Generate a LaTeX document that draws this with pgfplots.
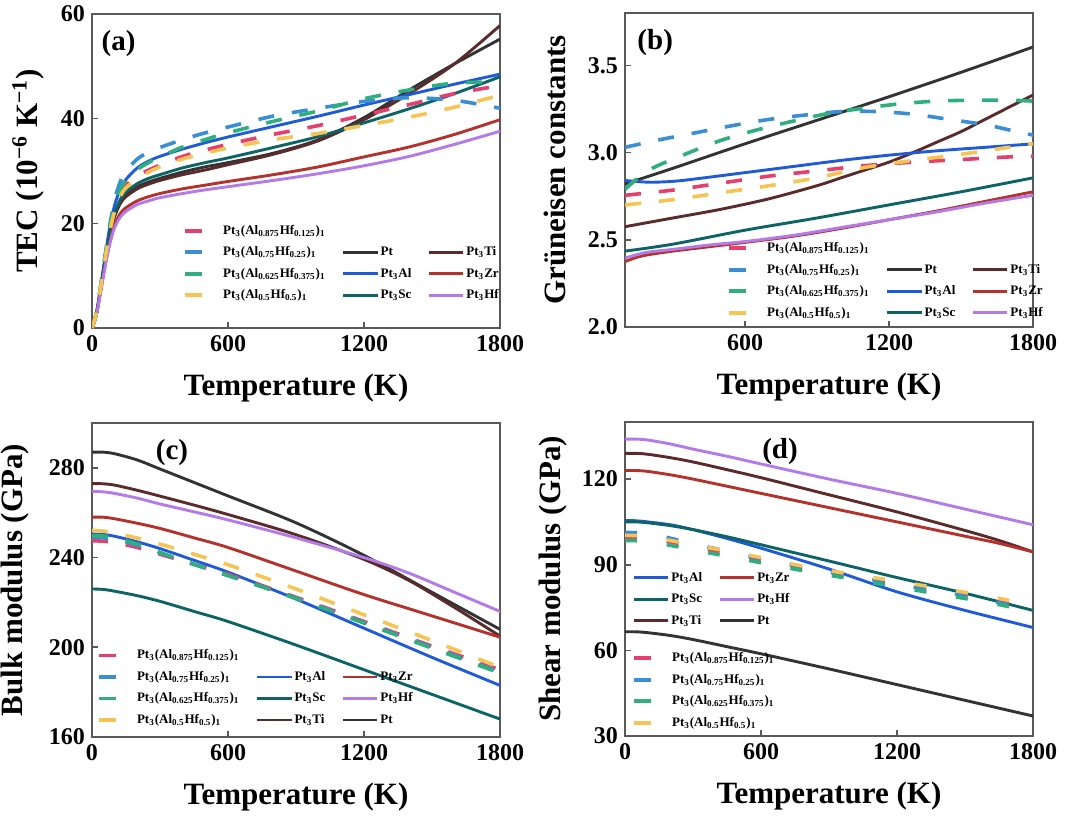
\documentclass[border=0pt]{standalone}
\usepackage{fontspec}
\setmainfont{Liberation Serif}
\usepackage{pgfplots}
\pgfplotsset{compat=1.18}

\definecolor{cPink}{HTML}{E63E6D}
\definecolor{cBlueD}{HTML}{3A8ED3}
\definecolor{cGreen}{HTML}{2EAF7D}
\definecolor{cYellow}{HTML}{F6C453}
\definecolor{cPt}{HTML}{333333}
\definecolor{cTi}{HTML}{5B2A2A}
\definecolor{cAl}{HTML}{1F5BD8}
\definecolor{cZr}{HTML}{B5312B}
\definecolor{cSc}{HTML}{0C6467}
\definecolor{cHf}{HTML}{B47AE8}

\newcommand{\sA}{Pt\textsubscript{3}(Al\textsubscript{0.875}Hf\textsubscript{0.125})\textsubscript{1}}
\newcommand{\sB}{Pt\textsubscript{3}(Al\textsubscript{0.75}Hf\textsubscript{0.25})\textsubscript{1}}
\newcommand{\sC}{Pt\textsubscript{3}(Al\textsubscript{0.625}Hf\textsubscript{0.375})\textsubscript{1}}
\newcommand{\sD}{Pt\textsubscript{3}(Al\textsubscript{0.5}Hf\textsubscript{0.5})\textsubscript{1}}
\newcommand{\tn}[1]{Pt\textsubscript{3}#1}

\tikzset{
  sol/.style={line width=1.45pt},
  dsh/.style={line width=1.8pt, dash pattern=on 8pt off 9pt},
  dshL/.style={line width=1.8pt, dash pattern=on 8.5pt off 9pt},
}

\pgfplotsset{
  panel/.style={
    scale only axis, width=204pt, height=157pt,
    xmin=0, xmax=1800, xtick={0,600,1200,1800},
    tick align=inside, xtick pos=bottom, ytick pos=left,
    axis line style={black!65, line width=0.8pt},
    major tick style={black!65, line width=0.8pt}, major tick length=3pt,
    tick label style={font=\fontsize{12}{12}\selectfont\bfseries},
    /pgf/number format/assume math mode=true,
    /pgf/number format/1000 sep={},
    label style={font=\fontsize{15.5}{16}\selectfont\bfseries},
    xlabel={Temperature (K)},
    xlabel style={at={(axis description cs:0.5,-0.19)}, anchor=center},
    legend cell align=left,
    legend style={draw=none, fill=none, anchor=north west, inner sep=0pt,
      font=\fontsize{6.5}{7}\selectfont\bfseries, row sep=2.25pt,
      nodes={inner sep=1pt, text height=5pt, text depth=1.5pt},
      /tikz/every even column/.append style={column sep=7pt}},
  },
  every axis plot/.append style={smooth, tension=0.5, forget plot},
}

\begin{document}
\begin{tikzpicture}
\useasboundingbox (0,0) rectangle (540pt,410pt);

% ---------------- (a) ----------------
\begin{axis}[panel, at={(46pt,246pt)}, anchor=south west,
  ymin=0, ymax=60, ytick={0,20,40,60},
  ylabel={TEC (10\textsuperscript{−6} K\textsuperscript{−1})},
  ylabel style={at={(axis description cs:-0.157,0.5)}, anchor=center},
  legend columns=3,
  legend style={at={(rel axis cs:0.223,0.338)}}]
\addplot[sol, cPt] coordinates {(0,0)(20,2.8)(40,8)(60,13.5)(80,18.3)(100,21.6)(125,24.2)(150,25.5)(200,27)(250,27.9)(300,28.6)(400,29.8)(500,30.8)(600,31.6)(800,33.4)(1000,36)(1200,40.2)(1400,45.5)(1600,50.5)(1800,55.2)};
\addplot[sol, cTi] coordinates {(0,0)(20,2.8)(40,8)(60,13.4)(80,18.1)(100,21.3)(125,23.8)(150,25.1)(200,26.6)(250,27.5)(300,28.2)(400,29.3)(500,30.2)(600,31.2)(800,33.2)(1000,35.8)(1200,39.8)(1400,44.8)(1600,50.5)(1800,57.8)};
\addplot[sol, cAl] coordinates {(0,0)(20,3)(40,8.4)(60,14.3)(80,19.7)(100,23.5)(125,26.6)(150,28.4)(200,30.6)(250,31.9)(300,32.8)(400,34.2)(500,35.4)(600,36.5)(800,38.5)(1000,40.5)(1200,42.6)(1400,44.6)(1600,46.6)(1800,48.5)};
\addplot[sol, cSc] coordinates {(0,0)(20,2.8)(40,8.1)(60,13.6)(80,18.5)(100,21.9)(125,24.6)(150,26)(200,27.6)(250,28.6)(300,29.3)(400,30.6)(500,31.6)(600,32.5)(800,34.5)(1000,36.6)(1200,39.2)(1400,41.9)(1600,44.8)(1800,48)};
\addplot[sol, cZr] coordinates {(0,0)(20,2.7)(40,7.5)(60,12.5)(80,16.8)(100,19.8)(125,21.9)(150,23)(200,24.3)(250,25.1)(300,25.7)(400,26.6)(500,27.3)(600,28)(800,29.3)(1000,30.8)(1200,32.7)(1400,34.6)(1600,37)(1800,39.8)};
\addplot[sol, cHf] coordinates {(0,0)(20,2.6)(40,7.3)(60,12.2)(80,16.3)(100,19.2)(125,21.2)(150,22.3)(200,23.6)(250,24.3)(300,24.9)(400,25.7)(500,26.4)(600,27)(800,28.2)(1000,29.5)(1200,31)(1400,32.8)(1600,35.1)(1800,37.6)};
\addplot[dsh, cPink] coordinates {(0,0)(20,3)(40,8.3)(60,14)(80,19)(100,22.8)(125,25.8)(150,27.3)(200,29)(250,30.2)(300,31.1)(400,32.8)(500,34)(600,35.1)(800,37)(1000,38.7)(1200,40.7)(1400,42.7)(1600,44.8)(1800,46.3)};
\addplot[dsh, cBlueD] coordinates {(0,0)(20,3)(40,8.5)(60,14.5)(80,20)(100,24.5)(125,28)(150,30)(200,32.3)(250,33.6)(300,34.5)(400,36)(500,37.3)(600,38.4)(800,40.5)(1000,42)(1200,43.3)(1400,44)(1600,43.5)(1800,42)};
\addplot[dsh, cGreen] coordinates {(0,0)(20,3)(40,8.5)(60,14.3)(80,19.5)(100,23.5)(125,26.5)(150,28.3)(200,30.3)(250,31.6)(300,32.7)(400,34.6)(500,36)(600,37.3)(800,39.5)(1000,41.5)(1200,43.8)(1400,45.5)(1600,46.8)(1800,47)};
\addplot[dsh, cYellow] coordinates {(0,0)(20,3)(40,8.2)(60,13.8)(80,18.8)(100,22.3)(125,25.2)(150,26.8)(200,28.5)(250,29.8)(300,30.8)(400,32.3)(500,33.4)(600,34.4)(800,36)(1000,37.2)(1200,38.7)(1400,40.3)(1600,42.2)(1800,44.5)};
\addlegendimage{dshL, cPink}\addlegendentry{\sA}
\addlegendimage{empty legend}\addlegendentry{}
\addlegendimage{empty legend}\addlegendentry{}
\addlegendimage{dshL, cBlueD}\addlegendentry{\sB}
\addlegendimage{sol, cPt}\addlegendentry{Pt}
\addlegendimage{sol, cTi}\addlegendentry{\tn{Ti}}
\addlegendimage{dshL, cGreen}\addlegendentry{\sC}
\addlegendimage{sol, cAl}\addlegendentry{\tn{Al}}
\addlegendimage{sol, cZr}\addlegendentry{\tn{Zr}}
\addlegendimage{dshL, cYellow}\addlegendentry{\sD}
\addlegendimage{sol, cSc}\addlegendentry{\tn{Sc}}
\addlegendimage{sol, cHf}\addlegendentry{\tn{Hf}}
\node[font=\fontsize{14.5}{15}\selectfont\bfseries] at (rel axis cs:0.065,0.905) {(a)};
\end{axis}

% ---------------- (b) ----------------
\begin{axis}[panel, at={(312.5pt,246.5pt)}, anchor=south west,
  xmin=100, xtick={600,1200,1800},
  ymin=2.0, ymax=3.8, ytick={2.0,2.5,3.0,3.5},
  yticklabel style={/pgf/number format/.cd, fixed, fixed zerofill, precision=1},
  ylabel={Grüneisen constants},
  ylabel style={at={(axis description cs:-0.172,0.5)}, anchor=center},
  legend columns=3,
  legend style={at={(rel axis cs:0.25,0.279)}}]
\addplot[sol, cPt] coordinates {(100,2.82)(300,2.91)(600,3.05)(900,3.185)(1200,3.32)(1500,3.46)(1800,3.605)};
\addplot[sol, cTi] coordinates {(100,2.575)(300,2.625)(500,2.675)(700,2.735)(900,2.81)(1000,2.855)(1100,2.9)(1200,2.945)(1300,3.0)(1400,3.06)(1500,3.12)(1600,3.19)(1700,3.26)(1800,3.33)};
\addplot[sol, cAl] coordinates {(100,2.84)(200,2.83)(300,2.835)(400,2.85)(600,2.885)(800,2.92)(1000,2.955)(1200,2.985)(1400,3.01)(1600,3.03)(1800,3.05)};
\addplot[sol, cSc] coordinates {(100,2.435)(300,2.475)(600,2.555)(900,2.625)(1200,2.70)(1500,2.775)(1800,2.855)};
\addplot[sol, cZr] coordinates {(100,2.375)(150,2.4)(200,2.415)(300,2.435)(450,2.46)(600,2.485)(800,2.52)(1000,2.565)(1200,2.615)(1400,2.665)(1600,2.72)(1800,2.775)};
\addplot[sol, cHf] coordinates {(100,2.395)(150,2.415)(200,2.43)(300,2.445)(450,2.47)(600,2.49)(800,2.525)(1000,2.57)(1200,2.615)(1400,2.66)(1600,2.71)(1800,2.755)};
\addplot[dsh, cPink] coordinates {(100,2.755)(300,2.785)(500,2.825)(700,2.865)(900,2.895)(1100,2.925)(1300,2.945)(1500,2.96)(1700,2.975)(1800,2.98)};
\addplot[dsh, cBlueD] coordinates {(100,3.03)(250,3.075)(400,3.115)(550,3.155)(700,3.19)(850,3.215)(1000,3.235)(1150,3.235)(1300,3.22)(1450,3.19)(1600,3.16)(1700,3.13)(1800,3.10)};
\addplot[dsh, cGreen] coordinates {(100,2.79)(200,2.9)(350,2.99)(500,3.07)(650,3.13)(800,3.18)(950,3.225)(1100,3.255)(1250,3.28)(1400,3.295)(1550,3.30)(1700,3.30)(1800,3.295)};
\addplot[dsh, cYellow] coordinates {(100,2.70)(300,2.73)(500,2.77)(700,2.81)(900,2.855)(1100,2.915)(1300,2.955)(1500,2.99)(1700,3.03)(1800,3.05)};
\addlegendimage{dshL, cPink}\addlegendentry{\sA}
\addlegendimage{empty legend}\addlegendentry{}
\addlegendimage{empty legend}\addlegendentry{}
\addlegendimage{dshL, cBlueD}\addlegendentry{\sB}
\addlegendimage{sol, cPt}\addlegendentry{Pt}
\addlegendimage{sol, cTi}\addlegendentry{\tn{Ti}}
\addlegendimage{dshL, cGreen}\addlegendentry{\sC}
\addlegendimage{sol, cAl}\addlegendentry{\tn{Al}}
\addlegendimage{sol, cZr}\addlegendentry{\tn{Zr}}
\addlegendimage{dshL, cYellow}\addlegendentry{\sD}
\addlegendimage{sol, cSc}\addlegendentry{\tn{Sc}}
\addlegendimage{sol, cHf}\addlegendentry{\tn{Hf}}
\node[font=\fontsize{14.5}{15}\selectfont\bfseries] at (rel axis cs:0.074,0.905) {(b)};
\end{axis}

% ---------------- (c) ----------------
\begin{axis}[panel, at={(46pt,41.5pt)}, anchor=south west,
  ymin=160, ymax=300, ytick={160,200,240,280},
  ylabel={Bulk modulus (GPa)},
  ylabel style={at={(axis description cs:-0.189,0.5)}, anchor=center},
  legend columns=3,
  legend style={at={(rel axis cs:0.012,0.288)}}]
\addplot[sol, cPt] coordinates {(0,287)(50,287)(100,286.3)(200,283.5)(300,279.5)(450,273.5)(600,267.5)(900,255.5)(1200,241)(1500,224.5)(1800,208)};
\addplot[sol, cTi] coordinates {(0,273)(50,272.9)(100,272.3)(200,270)(300,267.4)(450,263.4)(600,259.2)(900,250.2)(1200,239.2)(1400,229.7)(1600,217.7)(1800,205)};
\addplot[sol, cHf] coordinates {(0,269.5)(50,269.3)(100,268.6)(200,266.5)(300,263.9)(450,260.4)(600,256.8)(900,248.8)(1200,240)(1400,233)(1600,224.5)(1800,216)};
\addplot[sol, cZr] coordinates {(0,258)(50,258)(100,257.3)(200,255.3)(300,253)(450,248.8)(600,244.5)(900,234)(1200,223.5)(1500,214)(1800,204.5)};
\addplot[sol, cAl] coordinates {(0,250.5)(50,250.3)(100,249.5)(200,247)(300,244)(450,238.8)(600,233.5)(900,221.5)(1200,208.5)(1500,195.5)(1800,183)};
\addplot[sol, cSc] coordinates {(0,226)(50,225.8)(100,225)(200,223)(300,220.5)(450,216)(600,211.5)(900,201)(1200,190)(1500,179)(1800,168)};
\addplot[dsh, cPink] coordinates {(0,247.5)(50,247.3)(100,246.7)(200,244.5)(300,241.5)(450,237)(600,232.5)(900,222.3)(1200,211.5)(1500,200.5)(1800,190)};
\addplot[dsh, cBlueD] coordinates {(0,249)(50,248.8)(100,248)(200,245.5)(300,242)(450,237)(600,232)(900,222)(1200,211)(1500,200)(1800,189)};
\addplot[dsh, cGreen] coordinates {(0,249.8)(50,249.6)(100,248.8)(200,246)(300,242.3)(450,237)(600,232)(900,221.8)(1200,210.8)(1500,199.6)(1800,188.5)};
\addplot[dsh, cYellow] coordinates {(0,252)(50,251.8)(100,251)(200,248.7)(300,246)(450,241.5)(600,236.8)(900,226)(1200,214.5)(1500,203)(1800,191)};
\addlegendimage{dshL, cPink}\addlegendentry{\sA}
\addlegendimage{empty legend}\addlegendentry{}
\addlegendimage{empty legend}\addlegendentry{}
\addlegendimage{dshL, cBlueD}\addlegendentry{\sB}
\addlegendimage{sol, cAl}\addlegendentry{\tn{Al}}
\addlegendimage{sol, cZr}\addlegendentry{\tn{Zr}}
\addlegendimage{dshL, cGreen}\addlegendentry{\sC}
\addlegendimage{sol, cSc}\addlegendentry{\tn{Sc}}
\addlegendimage{sol, cHf}\addlegendentry{\tn{Hf}}
\addlegendimage{dshL, cYellow}\addlegendentry{\sD}
\addlegendimage{sol, cTi}\addlegendentry{\tn{Ti}}
\addlegendimage{sol, cPt}\addlegendentry{Pt}
\node[font=\fontsize{14.5}{15}\selectfont\bfseries] at (rel axis cs:0.196,0.907) {(c)};
\end{axis}

% ---------------- (d) ----------------
\begin{axis}[panel, at={(312.5pt,42pt)}, anchor=south west,
  ymin=30, ymax=140, ytick={30,60,90,120},
  ylabel={Shear modulus (GPa)},
  ylabel style={at={(axis description cs:-0.176,0.5)}, anchor=center},
  legend columns=2,
  legend style={at={(rel axis cs:0.017,0.532)}}]
\addplot[sol, cHf] coordinates {(0,134)(50,134)(100,133.7)(200,132.3)(300,130.5)(450,128)(600,125.3)(900,120)(1200,115)(1500,109.5)(1800,104)};
\addplot[sol, cTi] coordinates {(0,129)(50,129)(100,128.7)(200,127.5)(300,126)(450,123.3)(600,120.5)(900,114.5)(1200,108.5)(1500,102)(1650,98.5)(1800,94.5)};
\addplot[sol, cZr] coordinates {(0,123)(50,123)(100,122.7)(200,121.5)(300,120)(450,117.5)(600,115)(900,110)(1200,105)(1500,100)(1650,97.5)(1800,94.5)};
\addplot[sol, cAl] coordinates {(0,105.5)(50,105.4)(100,105)(200,104)(300,102.3)(450,99.2)(600,95.8)(900,88.5)(1200,80.5)(1500,74)(1800,68)};
\addplot[sol, cSc] coordinates {(0,105)(50,105)(100,104.7)(200,103.7)(300,102.3)(450,99.8)(600,97)(900,91.3)(1200,85.5)(1500,80)(1800,74)};
\addplot[sol, cPt] coordinates {(0,66.5)(50,66.5)(100,66.2)(200,65.2)(300,63.8)(450,61.3)(600,58.8)(900,53.5)(1200,48)(1500,42.5)(1800,37)};
\addplot[dsh, dash pattern=on 6pt off 15pt, cPink] coordinates {(0,99.7)(100,99.4)(200,98)(300,96.3)(450,94)(600,91.7)(800,88.6)(1000,86)(1200,83.2)(1400,80.6)(1600,77.8)(1800,74.6)};
\addplot[dsh, dash pattern=on 6pt off 15pt, cBlueD] coordinates {(0,101.3)(100,101)(200,99.3)(300,97.3)(450,94.8)(600,92.2)(800,89)(1000,86.2)(1200,83.2)(1400,80.5)(1600,77.5)(1800,74.2)};
\addplot[dsh, dash pattern=on 6pt off 15pt, cGreen] coordinates {(0,98.5)(100,98.2)(200,96.8)(300,95.2)(450,93)(600,90.7)(800,87.7)(1000,85)(1200,82.2)(1400,79.5)(1600,76.8)(1800,73.6)};
\addplot[dsh, dash pattern=on 6pt off 15pt, cYellow] coordinates {(0,100.3)(100,100)(200,98.5)(300,97)(450,94.8)(600,92.5)(800,89.3)(1000,86.7)(1200,84.2)(1400,81.6)(1600,79)(1800,75.7)};
\addlegendimage{sol, cAl}\addlegendentry{\tn{Al}}
\addlegendimage{sol, cZr}\addlegendentry{\tn{Zr}}
\addlegendimage{sol, cSc}\addlegendentry{\tn{Sc}}
\addlegendimage{sol, cHf}\addlegendentry{\tn{Hf}}
\addlegendimage{sol, cTi}\addlegendentry{\tn{Ti}}
\addlegendimage{sol, cPt}\addlegendentry{Pt}
\node[font=\fontsize{14.5}{15}\selectfont\bfseries] at (rel axis cs:0.38,0.907) {(d)};
\end{axis}

% second legend of (d)
\begin{axis}[scale only axis, width=204pt, height=157pt, at={(312.5pt,42pt)}, anchor=south west,
  hide axis, xmin=0, xmax=1, ymin=0, ymax=1,
  legend cell align=left,
  legend style={draw=none, fill=none, anchor=north west, inner sep=0pt,
      font=\fontsize{6.5}{7}\selectfont\bfseries, row sep=2.25pt,
      nodes={inner sep=1pt, text height=5pt, text depth=1.5pt},
      at={(rel axis cs:0.017,0.276)}}]
\addlegendimage{dshL, cPink}\addlegendentry{\sA}
\addlegendimage{dshL, cBlueD}\addlegendentry{\sB}
\addlegendimage{dshL, cGreen}\addlegendentry{\sC}
\addlegendimage{dshL, cYellow}\addlegendentry{\sD}
\end{axis}
\end{tikzpicture}
\end{document}
